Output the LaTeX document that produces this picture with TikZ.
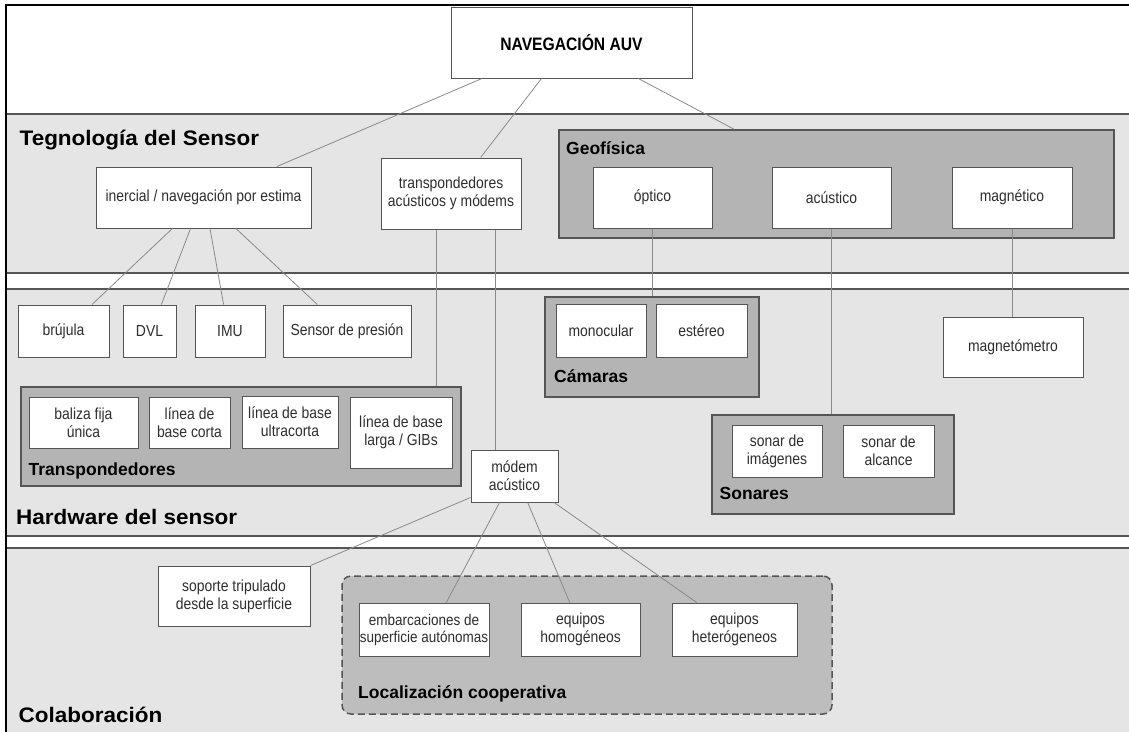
\documentclass[tikz,border=0pt]{standalone}
\usepackage{fontspec}
\setmainfont{Liberation Sans}
\newfontfamily\narrowfont[FakeStretch=0.87]{Liberation Sans}
\newfontfamily\widefont[FakeStretch=1.07]{Liberation Sans}
\usetikzlibrary{calc}

\definecolor{bandgray}{HTML}{E5E5E5}
\definecolor{groupgray}{HTML}{B4B4B4}
\definecolor{coopgray}{HTML}{BDBDBD}
\definecolor{edgegray}{HTML}{555555}
\definecolor{wiregray}{HTML}{8A8A8A}
\definecolor{textgray}{HTML}{2E2E2E}

\tikzset{
  x=1pt, y=-1pt,
  leaf/.style={draw=edgegray, line width=1pt, fill=white, inner sep=2pt,
    align=center, text=textgray, font=\narrowfont\fontsize{16}{18}\selectfont},
  group/.style={draw=edgegray, line width=1.5pt, fill=groupgray, inner sep=0pt},
  coopgroup/.style={draw=edgegray, line width=1.5pt, fill=coopgray, inner sep=0pt,
    rounded corners=9pt, dash pattern=on 7pt off 4pt},
  wire/.style={draw=wiregray, line width=0.8pt},
  bandline/.style={draw=edgegray, line width=1.3pt},
  header/.style={anchor=base west, inner sep=0pt,
    font=\widefont\bfseries\fontsize{21}{24}\selectfont},
  grouplabel/.style={anchor=base west, inner sep=0pt,
    font=\bfseries\fontsize{17.5}{20}\selectfont},
}

\begin{document}
\begin{tikzpicture}
\useasboundingbox (0,0) rectangle (1129,731);
\fill[white] (0,0) rectangle (1129,731);

% horizontal bands
\fill[bandgray] (6,114) rectangle (1129,273);
\fill[bandgray] (6,289) rectangle (1129,536);
\fill[bandgray] (6,548) rectangle (1129,740);
\draw[bandline] (6,114) -- (1129,114);
\draw[bandline] (6,273) -- (1129,273);
\draw[bandline] (6,289) -- (1129,289);
\draw[bandline] (6,536) -- (1129,536);
\draw[bandline] (6,548) -- (1129,548);

% outer frame
\draw[black, line width=2.2pt] (6,740) -- (6,5) -- (1140,5);

% band titles
\node[header] (hsensor) at (19.5,145) {Tegnología del Sensor};
\node[header] (hhard) at (16,524) {Hardware del sensor};
\node[header] (hcolab) at (18.5,722) {Colaboración};

% root
\node[leaf, minimum width=241pt, minimum height=71pt,
  font=\narrowfont\bfseries\fontsize{18}{20}\selectfont, text=black]
  (title) at (571.5,42.5) {NAVEGACIÓN AUV};

% sensor technology
\node[leaf, minimum width=215pt, minimum height=61pt] (inercial) at (203.5,197.5)
  {inercial / navegación por estima};
\node[leaf, minimum width=140pt, minimum height=71pt] (transp) at (451,193.5)
  {transpondedores\\acústicos y módems};
\node[group, minimum width=555pt, minimum height=108pt] (geo) at (836.5,184) {};
\node[grouplabel] (geolabel) at (566,154) {Geofísica};
\node[leaf, minimum width=119pt, minimum height=61pt] (optico) at (652.5,197.5) {óptico};
\node[leaf, minimum width=119pt, minimum height=61pt] (acustico) at (831.5,197.5) {acústico};
\node[leaf, minimum width=120pt, minimum height=61pt] (magnetico) at (1012,197.5) {magnético};

% sensor hardware
\node[leaf, minimum width=91pt, minimum height=52pt] (brujula) at (63.5,331) {brújula};
\node[leaf, minimum width=53pt, minimum height=52pt] (dvl) at (149.5,331) {DVL};
\node[leaf, minimum width=70pt, minimum height=52pt] (imu) at (230,331) {IMU};
\node[leaf, minimum width=128pt, minimum height=52pt] (presion) at (347,331) {Sensor de presión};

\node[group, minimum width=440pt, minimum height=99pt] (tgroup) at (241,436.5) {};
\node[grouplabel] (tlabel) at (28.5,475) {Transpondedores};
\node[leaf, minimum width=109pt, minimum height=51pt] (baliza) at (83.5,422.5) {baliza fija\\única};
\node[leaf, minimum width=81pt, minimum height=51pt] (corta) at (189.5,422.5) {línea de\\base corta};
\node[leaf, minimum width=96pt, minimum height=52pt] (ultracorta) at (290,422) {línea de base\\ultracorta};
\node[leaf, minimum width=102pt, minimum height=71pt] (larga) at (401,432.5) {línea de base\\larga / GIBs};

\node[leaf, minimum width=87pt, minimum height=52pt] (modem) at (514.5,476) {módem\\acústico};

\node[group, minimum width=214pt, minimum height=100pt] (camaras) at (652,347) {};
\node[grouplabel] (clabel) at (554,382) {Cámaras};
\node[leaf, minimum width=90pt, minimum height=53pt] (monocular) at (601,330.5) {monocular};
\node[leaf, minimum width=91pt, minimum height=53pt] (estereo) at (701.5,330.5) {estéreo};

\node[group, minimum width=242pt, minimum height=99pt] (sonares) at (833,464.5) {};
\node[grouplabel] (slabel) at (719.5,499) {Sonares};
\node[leaf, minimum width=90pt, minimum height=52pt] (imagenes) at (777,451) {sonar de\\imágenes};
\node[leaf, minimum width=91pt, minimum height=52pt] (alcance) at (888.5,451) {sonar de\\alcance};

\node[leaf, minimum width=140pt, minimum height=60pt] (magnetometro) at (1013,347) {magnetómetro};

% collaboration
\node[leaf, minimum width=152pt, minimum height=60pt] (soporte) at (234,596)
  {soporte tripulado\\desde la superficie};
\node[coopgroup, minimum width=490pt, minimum height=138pt] (coop) at (587,645) {};
\node[grouplabel] (coplabel) at (358,698) {Localización cooperativa};
\node[leaf, minimum width=130pt, minimum height=53pt, inner sep=0pt,
  font=\narrowfont\fontsize{15.5}{17}\selectfont] (embarc) at (424,629.5)
  {embarcaciones de\\superficie autónomas};
\node[leaf, minimum width=119pt, minimum height=53pt] (homog) at (580.5,629.5) {equipos\\homogéneos};
\node[leaf, minimum width=125pt, minimum height=53pt] (hetero) at (734.5,629.5) {equipos\\heterógeneos};

% connectors
\draw[wire] ($(title.south west)!0.13!(title.south east)$) -- ($(inercial.north west)!0.84!(inercial.north east)$);
\draw[wire] ($(title.south west)!0.376!(title.south east)$) -- ($(transp.north west)!0.71!(transp.north east)$);
\draw[wire] ($(title.south west)!0.776!(title.south east)$) -- ($(geo.north west)!0.316!(geo.north east)$);

\draw[wire] ($(inercial.south west)!0.356!(inercial.south east)$) -- ($(brujula.north west)!0.81!(brujula.north east)$);
\draw[wire] ($(inercial.south west)!0.44!(inercial.south east)$) -- ($(dvl.north west)!0.72!(dvl.north east)$);
\draw[wire] ($(inercial.south west)!0.53!(inercial.south east)$) -- ($(imu.north west)!0.41!(imu.north east)$);
\draw[wire] ($(inercial.south west)!0.65!(inercial.south east)$) -- ($(presion.north west)!0.27!(presion.north east)$);

\coordinate (tdown) at ($(transp.south west)!0.396!(transp.south east)$);
\draw[wire] (tdown) -- (tdown |- tgroup.north);
\coordinate (mdown) at ($(transp.south west)!0.814!(transp.south east)$);
\draw[wire] (mdown) -- (mdown |- modem.north);

\draw[wire] (optico.south) -- (optico.south |- camaras.north);
\draw[wire] (acustico.south) -- (acustico.south |- sonares.north);
\draw[wire] (magnetico.south) -- (magnetico.south |- magnetometro.north);

\draw[wire] ($(modem.south west)+(0,-5)$) -- (soporte.north east);
\draw[wire] ($(modem.south west)!0.33!(modem.south east)$) -- ($(embarc.north west)!0.67!(embarc.north east)$);
\draw[wire] ($(modem.south west)!0.65!(modem.south east)$) -- ($(homog.north west)!0.41!(homog.north east)$);
\draw[wire] ($(modem.south west)!0.95!(modem.south east)$) -- ($(hetero.north west)!0.2!(hetero.north east)$);
\end{tikzpicture}
\end{document}
